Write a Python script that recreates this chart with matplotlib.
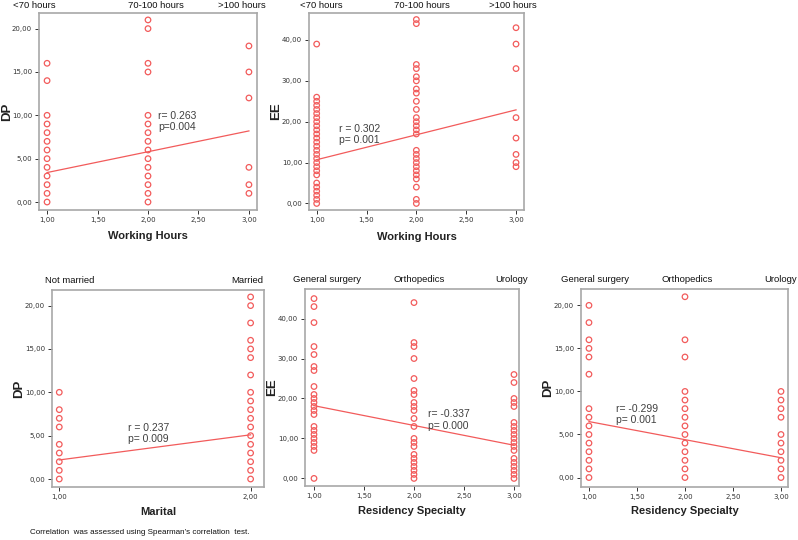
import matplotlib
matplotlib.use("Agg")
import matplotlib.pyplot as plt
import numpy as np

# ---------------- data ----------------
# Panel A: DP vs Working Hours
dp_wh_1 = [0, 1, 2, 3, 4, 5, 6, 7, 8, 9, 10, 14, 16]
dp_wh_2 = [0, 1, 2, 3, 4, 5, 6, 7, 8, 9, 10, 15, 16, 20, 21]
dp_wh_3 = [1, 2, 4, 12, 15, 18]
dp_wh_fit = [3.4, 8.2]
dp_wh_stats = ["r= 0.263", "p=0.004"]

# Panel B: EE vs Working Hours
ee_wh_1 = [0, 1, 2, 3, 4, 5, 7, 8, 9, 10, 11, 12, 13, 14, 15, 16, 17, 18, 19, 20,
           21, 22, 23, 24, 25, 26, 39]
ee_wh_2 = [0, 1, 4, 6, 7, 8, 9, 10, 11, 12, 13, 17, 18, 19, 20, 21, 23, 25, 27, 28,
           30, 31, 33, 34, 44, 45]
ee_wh_3 = [9, 10, 12, 16, 21, 33, 39, 43]
ee_wh_fit = [10.7, 22.9]
ee_wh_stats = ["r = 0.302", "p= 0.001"]

# Panel C: DP vs Marital
dp_mar_1 = [0, 1, 2, 3, 4, 6, 7, 8, 10]
dp_mar_2 = [0, 1, 2, 3, 4, 5, 6, 7, 8, 9, 10, 12, 14, 15, 16, 18, 20, 21]
dp_mar_fit = [2.2, 5.1]
dp_mar_stats = ["r = 0.237", "p= 0.009"]

# Panel D: EE vs Residency Specialty
ee_rs_1 = [0, 7, 8, 9, 10, 11, 12, 13, 16, 17, 18, 19, 20, 21, 23, 27, 28, 31, 33,
           39, 43, 45]
ee_rs_2 = [0, 1, 2, 3, 4, 5, 6, 8, 9, 10, 13, 15, 17, 18, 19, 21, 22, 25, 30, 33,
           34, 44]
ee_rs_3 = [0, 1, 2, 3, 4, 5, 7, 8, 9, 10, 11, 12, 13, 14, 18, 19, 20, 24, 26]
ee_rs_fit = [18.2, 8.3]
ee_rs_stats = ["r= -0.337", "p= 0.000"]

# Panel E: DP vs Residency Specialty
dp_rs_1 = [0, 1, 2, 3, 4, 5, 6, 7, 8, 12, 14, 15, 16, 18, 20]
dp_rs_2 = [0, 1, 2, 3, 4, 5, 6, 7, 8, 9, 10, 14, 16, 21]
dp_rs_3 = [0, 1, 2, 3, 4, 5, 7, 8, 9, 10]
dp_rs_fit = [6.5, 2.3]
dp_rs_stats = ["r= -0.299", "p= 0.001"]

hours_cats = ["<70 hours", "70-100 hours", ">100 hours"]
marital_cats = ["Not married", "Married"]
spec_cats = ["General surgery", "Orthopedics", "Urology"]

# ---------------- style ----------------
W, H = 798, 540
fig = plt.figure(figsize=(W / 100, H / 100), dpi=100)
RED = "#f25b5b"
FRAME = "#a8a8a8"
TXT = "#404040"


def rect(l, r, t, b):
    return [l / W, 1 - b / H, (r - l) / W, (b - t) / H]


def fmt(v):
    return f"{v:.2f}".replace(".", ",")


def panel(box, groups, xs_cat, fit, stats, stat_pos, xlim, ylim, yticks, xticks,
          ylabel, xlabel, cats, cat_x, cat_y, ylab_x, xlab_y):
    ax = fig.add_axes(rect(*box))
    for xv, ys in zip(xs_cat, groups):
        ax.scatter([xv] * len(ys), ys, s=16, facecolors="none", edgecolors=RED,
                   linewidths=0.9, zorder=3)
    ax.plot([xs_cat[0], xs_cat[-1]], fit, color=RED, lw=0.9, zorder=2)
    ax.text(stat_pos[0], stat_pos[1], stats[0] + "\n" + stats[1], fontsize=7.5,
            color=TXT, va="center", ha="left", linespacing=1.15,
            family="Liberation Sans")
    ax.set_xlim(*xlim)
    ax.set_ylim(*ylim)
    ax.set_yticks(yticks)
    ax.set_yticklabels([fmt(v) for v in yticks])
    ax.set_xticks(xticks)
    ax.set_xticklabels([fmt(v) for v in xticks])
    ax.tick_params(labelsize=5, colors="#333333", length=3, width=0.7, pad=2)
    for s in ax.spines.values():
        s.set_color(FRAME)
        s.set_linewidth(1.2)
    ax.set_ylabel(ylabel, fontsize=9.5, fontweight="bold", family="Liberation Sans",
                  color="#222222")
    ax.set_xlabel(xlabel, fontsize=8, fontweight="bold", family="Liberation Sans",
                  color="#222222")
    ax.yaxis.set_label_coords(ylab_x, 0.5)
    ax.xaxis.set_label_coords(0.5, xlab_y)
    tr = ax.get_xaxis_transform()
    for c, cx in zip(cats, cat_x):
        ax.text(cx, cat_y, c, transform=tr, ha="center", va="center", fontsize=6.8,
                family="Liberation Sans", color="#111111")
    return ax


panel((39, 257, 13, 210), [dp_wh_1, dp_wh_2, dp_wh_3], [1, 2, 3], dp_wh_fit,
      dp_wh_stats, (2.1, 9.25), (0.92, 3.08), (-0.92, 21.8),
      [0, 5, 10, 15, 20], [1, 1.5, 2, 2.5, 3], "DP", "Working Hours",
      hours_cats, [0.87, 2.08, 2.93], 1.04, -0.119, -0.107)

panel((309, 524, 13, 210), [ee_wh_1, ee_wh_2, ee_wh_3], [1, 2, 3], ee_wh_fit,
      ee_wh_stats, (1.22, 16.9), (0.923, 3.08), (-1.6, 46.6),
      [0, 10, 20, 30, 40], [1, 1.5, 2, 2.5, 3], "EE", "Working Hours",
      hours_cats, [1.05, 2.06, 2.97], 1.04, -0.126, -0.112)

panel((52, 264, 290, 487), [dp_mar_1, dp_mar_2], [1, 2], dp_mar_fit,
      dp_mar_stats, (1.36, 5.25), (0.962, 2.07), (-0.92, 21.8),
      [0, 5, 10, 15, 20], [1, 2], "DP", "Marital",
      marital_cats, [1.056, 1.985], 1.05, -0.128, -0.10)

panel((305, 519, 289, 486), [ee_rs_1, ee_rs_2, ee_rs_3], [1, 2, 3], ee_rs_fit,
      ee_rs_stats, (2.14, 14.6), (0.91, 3.05), (-1.9, 47.4),
      [0, 10, 20, 30, 40], [1, 1.5, 2, 2.5, 3], "EE", "Residency Specialty",
      spec_cats, [1.13, 2.05, 2.98], 1.046, -0.126, -0.10)

panel((581, 788, 289, 487), [dp_rs_1, dp_rs_2, dp_rs_3], [1, 2, 3], dp_rs_fit,
      dp_rs_stats, (1.28, 7.3), (0.917, 3.073), (-1.1, 21.9),
      [0, 5, 10, 15, 20], [1, 1.5, 2, 2.5, 3], "DP", "Residency Specialty",
      spec_cats, [1.06, 2.02, 3.0], 1.046, -0.131, -0.096)

fig.text(30 / W, 1 - 533 / H,
         "Correlation  was assessed using Spearman\u2019s correlation  test.",
         fontsize=5.8, family="Liberation Sans", ha="left", va="center",
         color="#111111")

fig.savefig("out.png", dpi=100)
